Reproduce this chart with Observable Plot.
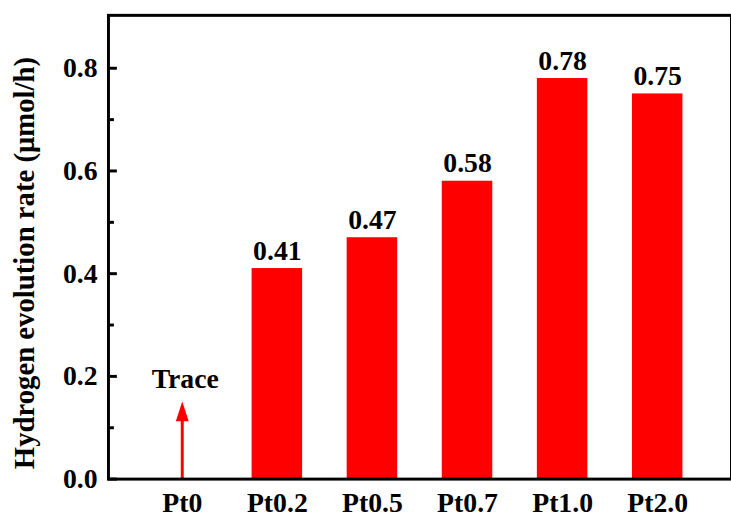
<!DOCTYPE html>
<html><head><meta charset="utf-8">
<script src="https://cdn.jsdelivr.net/npm/d3@7"></script>
<script src="https://cdn.jsdelivr.net/npm/@observablehq/plot@0.6"></script>
<style>
html,body{margin:0;padding:0;background:#fff;}
#chart{width:731px;height:521px;overflow:hidden;}
</style></head><body><div id="chart"></div>
<script>
const categories = ["Pt0", "Pt0.2", "Pt0.5", "Pt0.7", "Pt1.0", "Pt2.0"];
const rates = [0, 0.41, 0.47, 0.58, 0.78, 0.75];
const valueLabels = ["", "0.41", "0.47", "0.58", "0.78", "0.75"];
const traceCategory = "Pt0";
const traceLabel = "Trace";
const traceArrowTip = 0.151;
const traceShaftTop = 0.12;
const traceLabelY = 0.194;
const yMajorTicks = [0, 0.2, 0.4, 0.6, 0.8];
const yMinorTicks = [0.1, 0.3, 0.5, 0.7];
const yTitle = "Hydrogen evolution rate (μmol/h)";

const font = '"Liberation Serif","Times New Roman",Times,serif';
const arrowHead = {draw(ctx) { ctx.moveTo(0, 0); ctx.lineTo(6.5, 20); ctx.lineTo(-6.5, 20); ctx.closePath(); }};

const data = categories.map((c, i) => ({category: c, rate: rates[i], label: valueLabels[i]}));
const bars = data.filter(d => d.rate > 0);
const trace = [{category: traceCategory, tip: traceArrowTip, shaft: traceShaftTop, ly: traceLabelY, text: traceLabel}];

const chart = Plot.plot({
  width: 738, height: 521,
  marginLeft: 109, marginRight: 0, marginTop: 15, marginBottom: 37.8,
  style: {fontFamily: font, fontWeight: "bold", fontSize: "28px", color: "black", background: "white"},
  x: {domain: categories, paddingInner: 0.469, paddingOuter: 0.477, label: null},
  y: {domain: [0, 0.903], label: null},
  marks: [
    Plot.barY(bars, {x: "category", y: "rate", fill: "#ff0000"}),
    Plot.text(bars, {x: "category", y: "rate", text: "label", dy: -18, fill: "black", fontSize: 28, fontWeight: "bold"}),
    Plot.ruleX(trace, {x: "category", y1: 0, y2: "shaft", stroke: "#ff0000", strokeWidth: 3}),
    Plot.dot(trace, {x: "category", y: "tip", symbol: arrowHead, fill: "#ff0000", stroke: "none"}),
    Plot.text(trace, {x: "category", y: "ly", text: "text", dx: 3, fill: "black", fontSize: 28, fontWeight: "bold"}),
    Plot.axisX({tickSize: 0, tickPadding: 13, fontSize: 28, fontWeight: "bold", label: null}),
    Plot.axisY({ticks: yMajorTicks, tickSize: 0, tickPadding: 11, tickFormat: d3.format(".1f"), fontSize: 28, fontWeight: "bold", label: null}),
    Plot.axisY({ticks: yMajorTicks, tickSize: -9, tickFormat: () => "", strokeWidth: 3, label: null}),
    Plot.axisY({ticks: yMinorTicks, tickSize: -6, tickFormat: () => "", strokeWidth: 3, label: null}),
    Plot.frame({stroke: "black", strokeWidth: 3}),
    Plot.text([yTitle], {frameAnchor: "left", textAnchor: "middle", rotate: -90, dx: -84, dy: 16, fontSize: 29, fontWeight: "bold", fill: "black"})
  ]
});
document.getElementById("chart").appendChild(chart);
</script>
</body></html>
